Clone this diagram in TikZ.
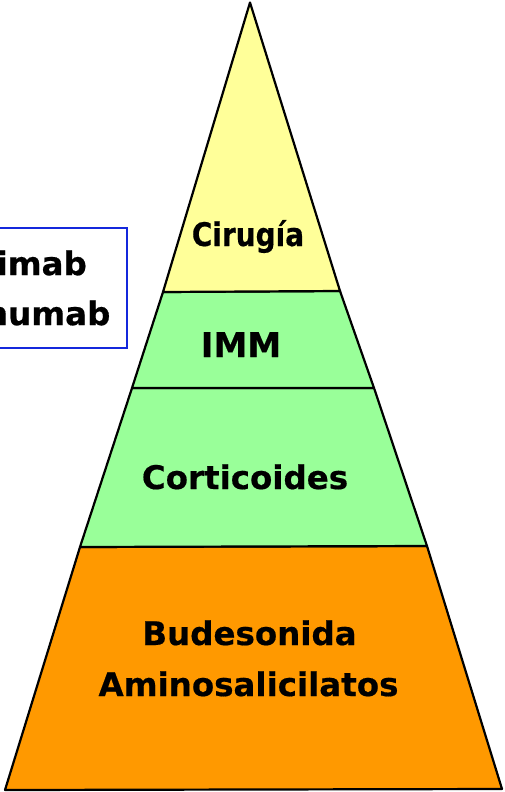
\documentclass[tikz,border=0pt]{standalone}
\usepackage{fontspec}
\setmainfont{DejaVu Sans}[BoldFeatures={FakeBold=0.5}]
\usepackage{graphicx}
\definecolor{layyellow}{RGB}{255,255,153}
\definecolor{laygreen}{RGB}{153,255,153}
\definecolor{layorange}{RGB}{255,153,0}
\definecolor{boxblue}{RGB}{20,40,220}
\begin{document}
\begin{tikzpicture}[x=1pt,y=-1pt,
  layer/.style={draw=black,line width=2.2pt,line join=round},
  lab/.style={font=\fontsize{32.5}{39}\selectfont\bfseries,inner sep=0pt,anchor=base}]
\useasboundingbox (0,0) rectangle (504,792);
\clip (0,0) rectangle (504,792);
\fill[white] (0,0) rectangle (504,792);
% layers
\coordinate (apex) at (250,2.5);
\coordinate (l1) at (163,292); \coordinate (r1) at (340,291);
\coordinate (l2) at (132,388); \coordinate (r2) at (374,388);
\coordinate (l3) at (80,547);  \coordinate (r3) at (427,546);
\coordinate (l4) at (5,790);   \coordinate (r4) at (502,789);
\draw[layer,fill=layorange] (l3) -- (r3) -- (r4) -- (l4) -- cycle;
\draw[layer,fill=laygreen] (l2) -- (r2) -- (r3) -- (l3) -- cycle;
\draw[layer,fill=laygreen] (l1) -- (r1) -- (r2) -- (l2) -- cycle;
\draw[layer,fill=layyellow] (apex) -- (r1) -- (l1) -- cycle;
% labels
\node[lab] (cir) at (248,246) {\scalebox{0.86}[1]{Cirugía}};
\node[lab,font=\fontsize{34}{40}\selectfont\bfseries] (imm) at (241,357) {IMM};
\node[lab] (cort) at (245,489) {Corticoides};
\node[lab] (bud) at (249.5,645) {Budesonida};
\node[lab] (amino) at (248.5,696) {Aminosalicilatos};
% side box
\node[draw=boxblue,line width=1.3pt,align=center,minimum width=262pt,minimum height=120pt,
  inner sep=0pt,font=\fontsize{32.5}{50}\selectfont\bfseries] (biol) at (-4,288)
  {Infliximab\\Adalimumab};
\end{tikzpicture}
\end{document}
